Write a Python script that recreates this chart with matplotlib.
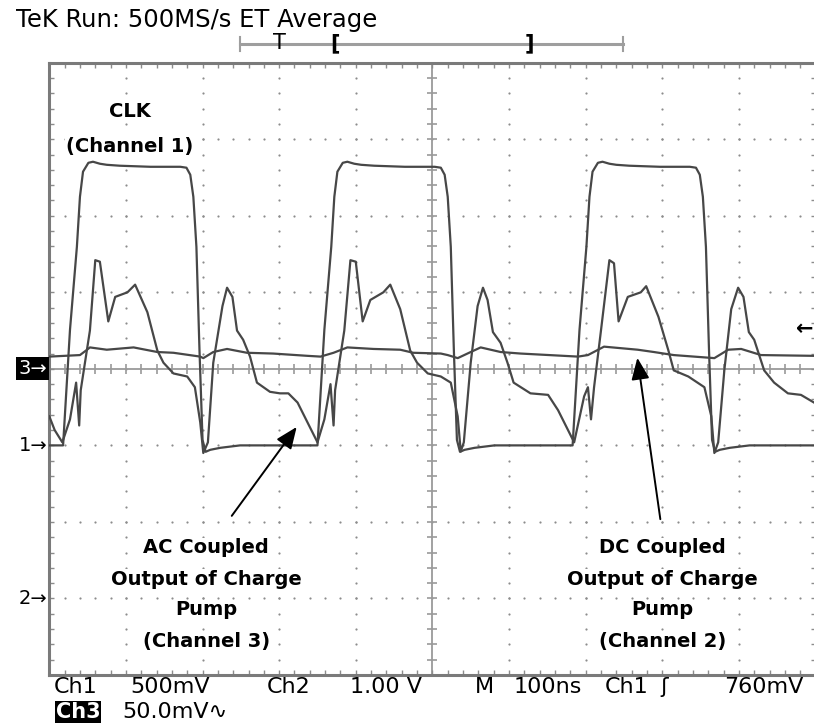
import numpy as np
import matplotlib
matplotlib.use("Agg")
import matplotlib.pyplot as plt
from matplotlib.lines import Line2D

plt.rcParams['font.family'] = ['DejaVu Sans']

# scope settings (per division) and ground reference (divisions from bottom)
CH1_MV_DIV, CH1_REF = 500, 3
CH2_V_DIV, CH2_REF = 1.0, 1
CH3_MV_DIV, CH3_REF = 50, 4
TRIG_MV = 760

# Channel 1 : CLK
ch1_t = [0, 18, 27, 36, 40, 44, 51, 57, 66, 75, 92, 132, 171, 179, 184, 188, 192, 196, 200, 204, 210, 223, 249, 302,
         350, 359, 368, 372, 376, 383, 389, 398, 407, 424, 464, 503, 511, 516, 520, 524, 528, 532, 536, 542, 555, 581, 634,
         683, 692, 701, 705, 709, 716, 722, 731, 740, 757, 797, 836, 844, 849, 853, 857, 861, 865, 869, 875, 888, 914, 1000]
ch1_mv = [0, 0, 755, 1297, 1624, 1788, 1846, 1853, 1840, 1833, 1827, 1820, 1820, 1814, 1768, 1624, 1297, 624, 36, -42, -29, -16, 0, 0,
          0, 755, 1297, 1624, 1788, 1846, 1853, 1840, 1833, 1827, 1820, 1820, 1814, 1768, 1624, 1297, 624, 36, -42, -29, -16, 0, 0,
          0, 755, 1297, 1624, 1788, 1846, 1853, 1840, 1833, 1827, 1820, 1820, 1814, 1768, 1624, 1297, 624, 36, -42, -29, -16, 0, 0]

# Channel 2 : DC coupled charge pump output
ch2_t = [0, 40, 48, 53, 75, 110, 141, 162, 197, 201, 214, 232, 258, 292, 337, 354, 371, 389, 423, 458, 475, 511,
         520, 533, 550, 563, 589, 615, 690, 703, 724, 768, 789, 815, 868, 886, 903, 929, 998]
ch2_v = [3.16, 3.18, 3.24, 3.28, 3.25, 3.28, 3.22, 3.21, 3.16, 3.14, 3.22, 3.26, 3.21, 3.20, 3.17, 3.16, 3.21, 3.28,
         3.26, 3.25, 3.21, 3.20, 3.18, 3.14, 3.22, 3.28, 3.22, 3.20, 3.16, 3.18, 3.29, 3.25, 3.22, 3.18, 3.14, 3.25,
         3.26, 3.18, 3.17]

# Channel 3 : AC coupled charge pump output
ch3_t = [0, 7, 17, 27, 35, 39, 41, 53, 60, 66, 77, 86, 102, 112, 128, 141, 149, 162, 180, 190, 197, 201, 207, 214,
         226, 232, 239, 245, 253, 262, 271, 288, 301, 312, 324, 337, 350,
         359, 367, 371, 373, 385, 393, 400, 409, 419, 436, 445, 458, 471, 480, 494, 511, 524, 533, 537, 541, 550,
         559, 566, 572, 579, 589, 598, 606, 628, 651, 664, 677, 685,
         698, 703, 707, 711, 720, 731, 737, 743, 755, 772, 779, 795, 808, 815, 834, 855, 864, 868, 873, 881,
         890, 899, 906, 913, 920, 933, 946, 964, 981, 998]
ch3_mv = [-31, -40, -48, -33, -9, -37, -14, 25, 71, 70, 31, 47, 50, 55, 37, 12, 4, -3, -5, -12, -35, -55, -48, 4,
          41, 53, 47, 25, 19, 8, -9, -15, -16, -16, -22, -35, -48,
          -33, -10, -37, -14, 25, 71, 70, 31, 45, 50, 55, 39, 12, 4, -3, -5, -9, -31, -54, -48, 4,
          41, 53, 45, 24, 17, 4, -9, -16, -17, -27, -40, -48,
          -18, -12, -33, -12, 25, 71, 69, 31, 47, 50, 54, 34, 12, -1, -5, -12, -31, -55, -48, -1,
          39, 53, 47, 24, 19, -1, -9, -16, -17, -22]

W, H = 814, 725
fig = plt.figure(figsize=(W / 100, H / 100), dpi=100)
fig.patch.set_facecolor('white')
ax = fig.add_axes([49.3 / W, (H - 675) / H, (815.5 - 49.3) / W, (675 - 62.7) / H])
ax.set_xlim(0, 1000)
ax.set_ylim(0, 8)

grid_c = '#8c8c8c'
# graticule: dotted major lines
gx = np.arange(0, 1001, 20)
gy = np.arange(0, 8.01, 0.2)
for xv in range(100, 1000, 100):
    if xv != 500:
        ax.scatter(np.full(len(gy), xv), gy, s=2.5, color=grid_c, linewidths=0, zorder=1)
for yv in range(1, 8):
    if yv != 4:
        ax.scatter(gx, np.full(len(gx), yv), s=2.5, color=grid_c, linewidths=0, zorder=1)
# center cross with ticks
ax.axvline(500, color='#9a9a9a', lw=1.3, zorder=1)
ax.axhline(4, color='#9a9a9a', lw=1.3, zorder=1)
ax.plot(gx, np.full(len(gx), 4), ls='none', marker='|', ms=7, mew=1.2, color='#9a9a9a', zorder=1)
ax.plot(np.full(len(gy), 500), gy, ls='none', marker='_', ms=7, mew=1.2, color='#9a9a9a', zorder=1)

# frame
for s in ax.spines.values():
    s.set_color('#7a7a7a')
    s.set_linewidth(2.2)
ax.set_xticks(gx)
ax.set_yticks(gy)
ax.tick_params(direction='in', length=3.5, width=1, color=grid_c,
               top=True, right=True, labelbottom=False, labelleft=False)

tr_c = '#474747'
ax.plot(ch1_t, CH1_REF + np.array(ch1_mv) / CH1_MV_DIV, color=tr_c, lw=1.6, zorder=3)
ax.plot(ch2_t, CH2_REF + np.array(ch2_v) / CH2_V_DIV, color=tr_c, lw=1.6, zorder=3)
ax.plot(ch3_t, CH3_REF + np.array(ch3_mv) / CH3_MV_DIV, color=tr_c, lw=1.6, zorder=3)

# annotations
bb = dict(facecolor='white', edgecolor='none', pad=0.5)
lab = dict(fontsize=14, fontweight='bold', ha='center', va='center', zorder=5, bbox=bb)
ax.text(105, 7.36, 'CLK', **lab)
ax.text(105, 6.90, '(Channel 1)', **lab)
for yv, s in zip([1.66, 1.25, 0.85, 0.44], ['AC Coupled', 'Output of Charge', 'Pump', '(Channel 3)']):
    ax.text(205, yv, s, **lab)
for yv, s in zip([1.66, 1.25, 0.85, 0.44], ['DC Coupled', 'Output of Charge', 'Pump', '(Channel 2)']):
    ax.text(800, yv, s, **lab)
arr = dict(arrowstyle='-|>,head_length=0.6,head_width=0.25', color='black', lw=1.4, mutation_scale=22)
ax.annotate('', xy=(325, 3.27), xytext=(236, 2.05), arrowprops=arr, zorder=6)
ax.annotate('', xy=(767, 4.18), xytext=(798, 2.0), arrowprops=arr, zorder=6)

# channel markers on the left, trigger level on the right
ax.text(-2, CH1_REF, '1\u2192', ha='right', va='center', fontsize=14, clip_on=False)
ax.text(-2, CH2_REF, '2\u2192', ha='right', va='center', fontsize=14, clip_on=False)
ax.text(-3, CH3_REF, '3\u2192', ha='right', va='center', fontsize=14, color='white', clip_on=False,
        bbox=dict(facecolor='black', edgecolor='none', pad=1.5))
ax.text(998, CH1_REF + TRIG_MV / CH1_MV_DIV, '\u2190', ha='right', va='center', fontsize=15,
        fontweight='bold', clip_on=False)

# header
def fx(x):
    return x / W

def fy(y):
    return 1 - y / H

fig.text(fx(16), fy(20.5), 'TeK Run: 500MS/s ET Average', fontsize=17.5, va='center')
bar_c = '#9e9e9e'
fig.add_artist(Line2D([fx(240), fx(623)], [fy(44), fy(44)], color=bar_c, lw=2.2))
for xv in (240, 623):
    fig.add_artist(Line2D([fx(xv), fx(xv)], [fy(37), fy(51)], color=bar_c, lw=1.5))
fig.text(fx(279), fy(43), 'T', fontsize=15, ha='center', va='center')
fig.text(fx(335), fy(43), '[', fontsize=15, ha='center', va='center', fontweight='bold')
fig.text(fx(529), fy(43), ']', fontsize=15, ha='center', va='center', fontweight='bold')

# footer
row1 = [(54, 'Ch1'), (130, '500mV'), (267, 'Ch2'), (350, '1.00 V'), (475, 'M'), (514, '100ns'),
        (605, 'Ch1'), (660, '\u0283'), (724, '760mV')]
for xv, s in row1:
    fig.text(fx(xv), fy(687), s, fontsize=16, va='center')
fig.text(fx(56), fy(712), 'Ch3', fontsize=15, va='center', color='white', fontweight='bold',
         bbox=dict(facecolor='black', edgecolor='none', pad=0.5))
fig.text(fx(122), fy(712), '50.0mV\u223f', fontsize=16, va='center')

fig.savefig('out.png', dpi=100, facecolor='white')
